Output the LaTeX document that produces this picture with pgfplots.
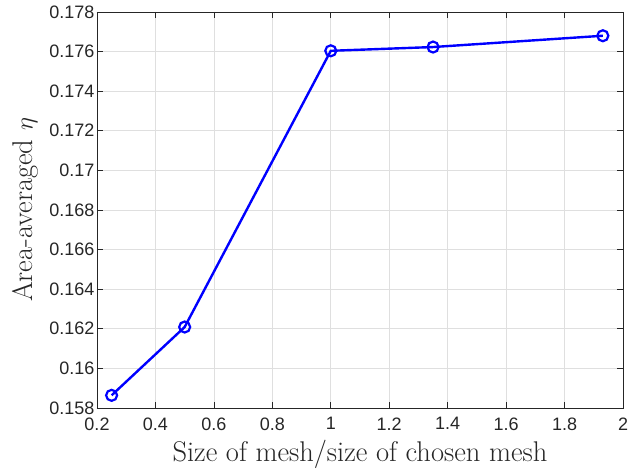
\documentclass[border=0pt]{standalone}
\usepackage{pgfplots}
\pgfplotsset{compat=1.18}
\usepackage{fontspec}
\newfontfamily\arial{Liberation Sans}
\definecolor{axgray}{gray}{0.15}
\begin{document}
\begin{tikzpicture}
\path[use as bounding box] (-97pt,-60pt) rectangle (542pt,408pt);
\begin{axis}[
  scale only axis,
  width=526pt, height=396pt,
  xmin=0.2, xmax=2, ymin=0.158, ymax=0.178,
  xtick={0.2,0.4,...,2.01},
  ytick={0.158,0.160,...,0.1781},
  scaled y ticks=false, scaled x ticks=false,
  /pgf/number format/fixed,
  /pgf/number format/precision=3,
  /pgf/number format/assume math mode=true,
  ticklabel style={font=\arial\fontsize{18}{18}\selectfont, text=axgray},
  xticklabel style={yshift=-6pt},
  yticklabel style={xshift=1pt},
  grid=major,
  major grid style={gray!25, line width=0.6pt},
  axis line style={axgray, line width=0.6pt},
  tick style={axgray, line width=0.6pt},
  tick align=inside,
  major tick length=6pt,
  xtick pos=both, ytick pos=both,
  xlabel={Size of mesh/size of chosen mesh},
  ylabel={Area-averaged $\eta$},
  label style={font=\fontsize{28.5}{28.5}\selectfont, text=axgray},
  xlabel style={at={(axis description cs:0.5,0)}, anchor=base, yshift=-53pt},
  ylabel style={at={(axis description cs:0,0.5)}, anchor=south, yshift=55pt},
]
\addplot[blue, line width=2.4pt, mark=o, mark size=5.5pt, mark options={line width=2.2pt}]
coordinates {(0.25,0.15864) (0.5,0.16209) (1,0.17604) (1.35,0.17623) (1.931,0.1768)};
\end{axis}
\end{tikzpicture}
\end{document}
